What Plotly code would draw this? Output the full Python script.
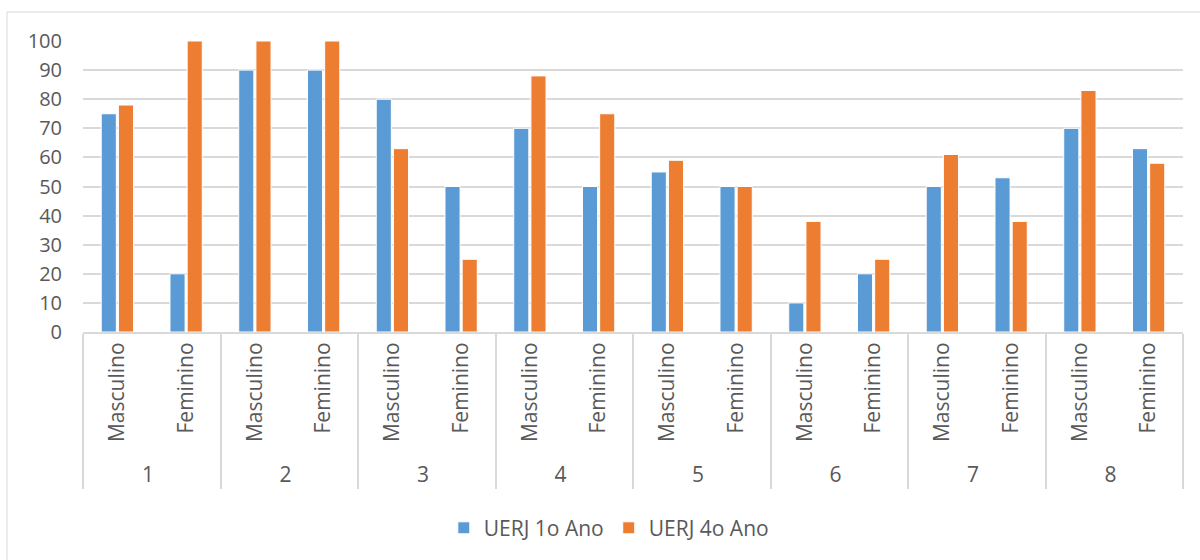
import plotly.graph_objects as go

groups = ["1", "2", "3", "4", "5", "6", "7", "8"]
sexes = ["Masculino", "Feminino"]
ano1 = [75, 20, 90, 90, 80, 50, 70, 50, 55, 50, 10, 20, 50, 53, 70, 63]
ano4 = [78, 100, 100, 100, 63, 25, 88, 75, 59, 50, 38, 25, 61, 38, 83, 58]
y_ticks = [0, 10, 20, 30, 40, 50, 60, 70, 80, 90, 100]

outer = [g for g in groups for _ in sexes]
inner = [s for _ in groups for s in sexes]

TEXT = "#595959"
FONT = "Open Sans"

fig = go.Figure()
fig.add_trace(go.Bar(x=[outer, inner], y=ano1, name="UERJ 1o Ano",
                     marker=dict(color="#5B9BD5", line=dict(color="white", width=1))))
fig.add_trace(go.Bar(x=[outer, inner], y=ano4, name="UERJ 4o Ano",
                     marker=dict(color="#ED7D31", line=dict(color="white", width=1))))

fig.update_layout(
    width=1200, height=560,
    margin=dict(l=83, r=17, t=41, b=228),
    paper_bgcolor="white", plot_bgcolor="white",
    barmode="group", bargap=0.5, bargroupgap=0.12,
    font=dict(family=FONT, size=20, color=TEXT),
    legend=dict(orientation="h", x=0.478, xanchor="center", y=-0.674, yanchor="middle",
                font=dict(size=21, color=TEXT), itemwidth=30),
    xaxis=dict(type="multicategory", tickangle=-90, showline=True, linecolor="#D9D9D9",
               linewidth=2, showdividers=True, dividercolor="#D9D9D9", dividerwidth=2,
               ticks="", tickfont=dict(size=21, color=TEXT), showgrid=False),
    yaxis=dict(range=[0, 100], tickvals=y_ticks, showgrid=True, gridcolor="#D9D9D9",
               gridwidth=2, zeroline=False, showline=False, ticks="",
               tickfont=dict(size=20, color=TEXT), ticklabelstandoff=20),
    shapes=[dict(type="rect", xref="paper", yref="paper", x0=-0.0691, x1=1.03,
                 y0=-0.82, y1=1.0997, line=dict(color="#D9D9D9", width=1))],
)

fig.write_html("out.html")
